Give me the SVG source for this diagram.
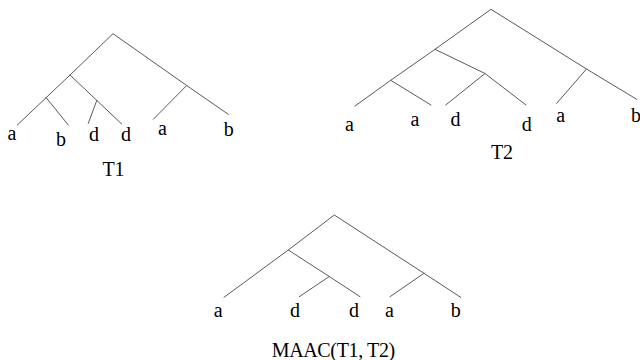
<svg xmlns="http://www.w3.org/2000/svg" width="640" height="360" viewBox="0 0 640 360">
  <style>
    .edge { stroke: #5a5a5a; stroke-width: 1; fill: none; stroke-linecap: round; }
    .lbl { font-family: "Liberation Serif", "Times New Roman", serif; font-size: 20px; fill: #000; text-anchor: middle; }
  </style>
  <rect width="640" height="360" fill="#fff"/>

  <!-- Tree T1 -->
  <g id="edges-t1">
    <polyline class="edge" points="17.3,125 70,75 113,33.7 186.7,85.5 228.3,114.3"/>
    <line class="edge" x1="70" y1="75" x2="121.7" y2="124"/>
    <line class="edge" x1="46" y1="97.5" x2="68.3" y2="125"/>
    <line class="edge" x1="96.8" y1="100.4" x2="88.3" y2="123.3"/>
    <line class="edge" x1="186.7" y1="85.5" x2="153.3" y2="119.3"/>
  </g>
  <g id="leaves-t1">
    <text class="lbl" x="12" y="140">a</text>
    <text class="lbl" x="61" y="145.5">b</text>
    <text class="lbl" x="94" y="140.5">d</text>
    <text class="lbl" x="126" y="140.5">d</text>
    <text class="lbl" x="162.5" y="135">a</text>
    <text class="lbl" x="228.7" y="136">b</text>
  </g>
  <g id="title-t1">
    <text class="lbl" x="113.5" y="176">T1</text>
  </g>

  <!-- Tree T2 -->
  <g id="edges-t2">
    <polyline class="edge" points="355,106 390.7,80.3 435,49.3 491,9.3 586.5,69 636.7,99.3"/>
    <polyline class="edge" points="435,49.3 485,73.5 526,105"/>
    <line class="edge" x1="390.7" y1="80.3" x2="431" y2="105"/>
    <line class="edge" x1="485" y1="73.5" x2="445.7" y2="105"/>
    <line class="edge" x1="586.5" y1="69" x2="556.7" y2="103.3"/>
  </g>
  <g id="leaves-t2">
    <text class="lbl" x="349.5" y="130.7">a</text>
    <text class="lbl" x="415" y="125.5">a</text>
    <text class="lbl" x="455.5" y="125.5">d</text>
    <text class="lbl" x="526.7" y="131">d</text>
    <text class="lbl" x="560.8" y="121.5">a</text>
    <text class="lbl" x="636" y="121.5">b</text>
  </g>
  <g id="title-t2">
    <text class="lbl" x="502" y="158.5">T2</text>
  </g>

  <!-- Tree MAAC(T1, T2) -->
  <g id="edges-maac">
    <polyline class="edge" points="224,297.3 288.3,250 334.3,215 424,273.3 460.7,297.3"/>
    <polyline class="edge" points="288.3,250 329.3,276.5 360,296.7"/>
    <line class="edge" x1="329.3" y1="276.5" x2="299.3" y2="296.7"/>
    <line class="edge" x1="424" y1="273.3" x2="390" y2="296.7"/>
  </g>
  <g id="leaves-maac">
    <text class="lbl" x="218.3" y="316.7">a</text>
    <text class="lbl" x="295" y="316.7">d</text>
    <text class="lbl" x="354" y="316.7">d</text>
    <text class="lbl" x="389.5" y="316.7">a</text>
    <text class="lbl" x="455.7" y="316.7">b</text>
  </g>
  <g id="title-maac">
    <text class="lbl" x="333.5" y="356.5" textLength="123.5">MAAC(T1, T2)</text>
  </g>
</svg>
